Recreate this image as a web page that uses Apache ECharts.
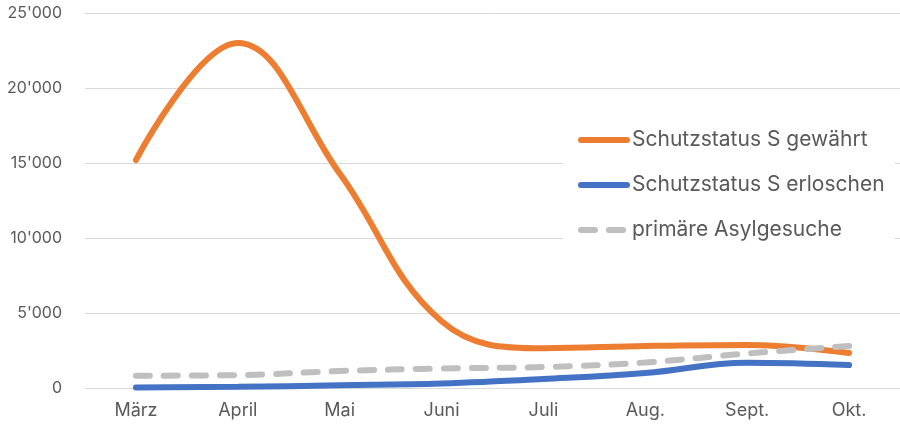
<!DOCTYPE html>
<html><head><meta charset="utf-8">
<script src="https://cdn.jsdelivr.net/npm/echarts@6/dist/echarts.min.js"></script>
<style>html,body{margin:0;padding:0;background:#fff}#c{width:900px;height:425px}</style>
</head><body><div id="c"></div>
<script>
const categories = ['März','April','Mai','Juni','Juli','Aug.','Sept.','Okt.'];
const gewaehrt = [15200, 23000, 14300, 4450, 2650, 2800, 2870, 2330];
const erloschen = [30, 80, 180, 300, 600, 1000, 1680, 1530];
const asyl = [820, 860, 1130, 1300, 1400, 1700, 2300, 2800];
const yTicks = [0, 5000, 10000, 15000, 20000, 25000];
const names = ['Schutzstatus S gewährt','Schutzstatus S erloschen','primäre Asylgesuche'];

const fmt = v => String(v).replace(/\B(?=(\d{3})+(?!\d))/g, "'");
const font = 'Inter, "Noto Sans", sans-serif';
const chart = echarts.init(document.getElementById('c'), null, {renderer:'canvas'});
chart.setOption({
  animation:false,
  grid:{left:85, right:0, top:13, bottom:37},
  legend:{
    left:563, top:116, orient:'vertical', backgroundColor:'#fff',
    padding:[12,10,12,15], itemWidth:46, itemHeight:10, itemGap:21,
    itemStyle:{opacity:0},
    textStyle:{fontFamily:font, fontSize:21, color:'#595959', lineHeight:24},
    data:[
      {name:names[0], lineStyle:{width:6, cap:'round'}},
      {name:names[1], lineStyle:{width:6, cap:'round'}},
      {name:names[2], lineStyle:{width:6, cap:'round', type:[14,14]}}
    ]
  },
  xAxis:{type:'category', data:categories, boundaryGap:true,
    axisLine:{show:false}, axisTick:{show:false},
    axisLabel:{fontFamily:font, fontSize:18, color:'#595959', margin:14}},
  yAxis:{type:'value', min:yTicks[0], max:yTicks[yTicks.length-1], interval:5000,
    axisLine:{show:false}, axisTick:{show:false},
    splitLine:{lineStyle:{color:'#d9d9d9', width:1}},
    axisLabel:{fontFamily:font, fontSize:16, color:'#595959', margin:23, formatter:fmt}},
  series:[
    {name:names[0], type:'line', data:gewaehrt, smooth:0.4, symbol:'none', z:3,
     lineStyle:{color:'#ed7d31', width:6, cap:'round'}, itemStyle:{color:'#ed7d31'}},
    {name:names[1], type:'line', data:erloschen, smooth:0.4, symbol:'none', z:2,
     lineStyle:{color:'#4472c4', width:6, cap:'round'}, itemStyle:{color:'#4472c4'}},
    {name:names[2], type:'line', data:asyl, smooth:0.4, symbol:'none', z:4,
     lineStyle:{color:'#bfbfbf', width:6, cap:'round', type:[14,14]}, itemStyle:{color:'#bfbfbf'}}
  ]
});
</script></body></html>
